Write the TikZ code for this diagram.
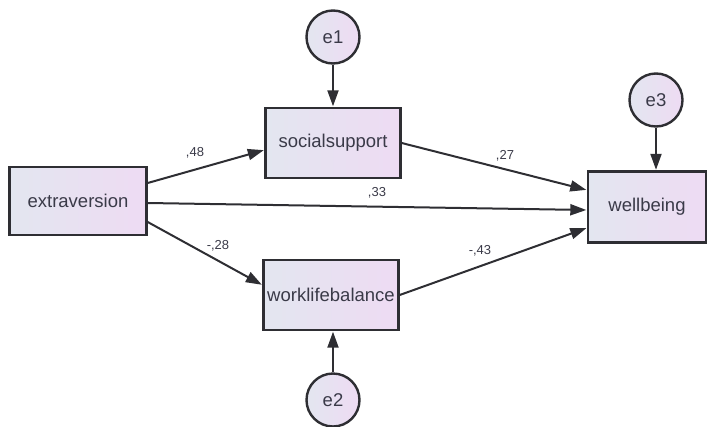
\documentclass[tikz,border=0pt]{standalone}
\usepackage{fontspec}
\setmainfont{Liberation Sans}
\usepackage{xcolor}
\usetikzlibrary{arrows.meta}
\definecolor{edge}{HTML}{2E2E33}
\definecolor{ink}{HTML}{3A3A48}
\definecolor{coolside}{HTML}{E3E6F0}
\definecolor{warmside}{HTML}{EEDBF3}

\tikzset{
  obsvar/.style={draw=edge, line width=2.4pt, left color=coolside, right color=warmside,
    minimum width=#1, minimum height=70pt, inner sep=0pt, text=ink, font=\fontsize{18.5}{21}\selectfont},
  errvar/.style={circle, draw=edge, line width=2.4pt, left color=coolside, right color=warmside,
    minimum size=53pt, inner sep=0pt, text=ink, font=\fontsize{18.5}{21}\selectfont},
  path/.style={draw=edge, line width=2pt, -{Triangle[length=16pt,width=11pt]}, shorten >=0.5pt},
  coef/.style={text=ink, inner sep=0pt, font=\fontsize{13}{15}\selectfont}
}

\begin{document}
\begin{tikzpicture}[x=1pt, y=-1pt]
        \useasboundingbox (0,0) rectangle (712,426);
        % observed variables
        \node[obsvar=137pt, minimum height=68pt] (extra) at (78,201) {extraversion};
        \node[obsvar=135pt] (social) at (333,143) {socialsupport};
        \node[obsvar=135pt] (wlb) at (331,295) {worklifebalance};
        \node[obsvar=118pt, minimum height=71pt] (well) at (647,207) {wellbeing};
        % error terms
        \node[errvar] (e1) at (333,37) {e1};
        \node[errvar] (e2) at (333,400) {e2};
        \node[errvar] (e3) at (656,100) {e3};
        \draw[path] (e1) -- (social);
        \draw[path] (e2) -- (e2 |- wlb.south);
        \draw[path] (e3) -- (e3 |- well.north);
        % structural paths
        \draw[path] ([yshift=18pt]extra.east) -- ([yshift=-7pt]social.west);
        \draw[path] ([yshift=-2pt]extra.east) -- ([yshift=-3pt]well.west);
        \draw[path] ([yshift=-21pt]extra.east) -- ([yshift=10pt]wlb.west);
        \draw[path] (social.east) -- ([yshift=17pt]well.west);
        \draw[path] (wlb.east) -- ([yshift=-21pt]well.west);
        % coefficients
        \node[coef] (c48) at (195,153) {,48};
        \node[coef] (c33) at (377,193) {,33};
        \node[coef] (c28) at (218,246) {-,28};
        \node[coef] (c27) at (505,156) {,27};
        \node[coef] (c43) at (480,251) {-,43};
      \end{tikzpicture}
\end{document}
